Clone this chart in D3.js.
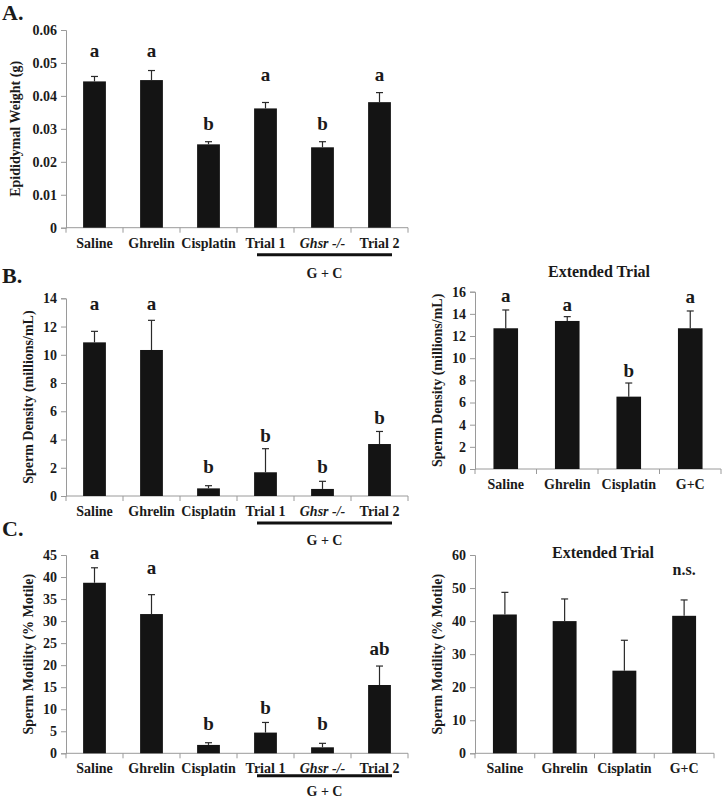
<!DOCTYPE html>
<html>
<head>
<meta charset="utf-8">
<script src="https://cdn.jsdelivr.net/npm/d3@7"></script>
<style>
  body { margin: 0; background: #fff; }
  text { font-family: "Liberation Serif", "Times New Roman", serif; font-weight: bold; fill: #1a1a1a; }
</style>
</head>
<body>
<div id="chart"></div>
<script>
// groups on the x axis
const groupsMain = ["Saline", "Ghrelin", "Cisplatin", "Trial 1", "Ghsr -/-", "Trial 2"];
const groupsExt = ["Saline", "Ghrelin", "Cisplatin", "G+C"];

// A. epididymal weight (g)
const weightMean = [0.0444, 0.0448, 0.0253, 0.0362, 0.0244, 0.0381];
const weightErr = [0.0015, 0.0029, 0.0008, 0.0018, 0.0017, 0.0029];
const weightLetters = ["a", "a", "b", "a", "b", "a"];
const weightLetterAt = [0.0539, 0.0539, 0.0317, 0.0466, 0.0317, 0.0466];
const weightTicks = [0, 0.01, 0.02, 0.03, 0.04, 0.05, 0.06];

// B. sperm density (millions/mL)
const densityMean = [10.88, 10.34, 0.54, 1.68, 0.50, 3.68];
const densityErr = [0.78, 2.10, 0.19, 1.67, 0.54, 0.89];
const densityLetters = ["a", "a", "b", "b", "b", "b"];
const densityLetterAt = [13.65, 13.65, 2.08, 4.32, 2.08, 5.6];
const densityTicks = [0, 2, 4, 6, 8, 10, 12, 14];

const densityExtMean = [12.7, 13.36, 6.53, 12.7];
const densityExtErr = [1.65, 0.39, 1.23, 1.56];
const densityExtLetters = ["a", "a", "b", "a"];
const densityExtLetterAt = [15.7, 14.86, 8.93, 15.6];
const densityExtTicks = [0, 2, 4, 6, 8, 10, 12, 14, 16];

// C. sperm motility (% motile)
const motilityMean = [38.7, 31.6, 1.9, 4.7, 1.36, 15.5];
const motilityErr = [3.4, 4.4, 0.5, 2.3, 0.9, 4.3];
const motilityLetters = ["a", "a", "b", "b", "b", "ab"];
const motilityLetterAt = [45.7, 42.1, 6.8, 10.4, 6.8, 23.8];
const motilityTicks = [0, 5, 10, 15, 20, 25, 30, 35, 40, 45];

const motilityExtMean = [42.0, 40.0, 25.0, 41.6];
const motilityExtErr = [6.7, 6.7, 9.2, 4.8];
const motilityExtLetters = ["", "", "", "n.s."];
const motilityExtLetterAt = [0, 0, 0, 55.7];
const motilityExtTicks = [0, 10, 20, 30, 40, 50, 60];

const svg = d3.select("#chart")
    .append("svg")
        .attr("width", 722)
        .attr("height", 799);

const axisColor = "#9a9a9a";
const barColor = "#141414";

function draw_panel(cfg) {
    const x = d3.scaleBand()
        .domain(cfg.groups)
        .range([cfg.left, cfg.right])
        .paddingInner(0).paddingOuter(0);
    const y = d3.scaleLinear()
        .domain([0, d3.max(cfg.ticks)])
        .range([cfg.bottom, cfg.top]);

    const g = svg.append("g");
    const barW = x.bandwidth() * 0.4;
    const cx = (d) => x(d) + x.bandwidth() / 2;

    // y axis
    const yAxis = g.append("g")
        .attr("transform", `translate(${cfg.left},0)`)
        .call(d3.axisLeft(y).tickValues(cfg.ticks).tickSize(5).tickPadding(4)
                .tickFormat(cfg.fmt || d3.format("")));
    yAxis.select(".domain").attr("stroke", axisColor);
    yAxis.selectAll(".tick line").attr("stroke", axisColor);
    yAxis.selectAll(".tick text")
        .style("font-family", "Liberation Serif")
        .style("font-weight", "bold")
        .style("font-size", "14px")
        .attr("fill", "#1a1a1a");

    // x axis: ticks sit at the group boundaries
    g.append("line")
        .attr("x1", cfg.left).attr("x2", cfg.right)
        .attr("y1", cfg.bottom).attr("y2", cfg.bottom)
        .attr("stroke", axisColor);
    const bounds = cfg.groups.map((d) => x(d)).concat([cfg.right]);
    g.selectAll(".xtick")
        .data(bounds)
        .enter()
            .append("line")
            .attr("x1", (d) => d).attr("x2", (d) => d)
            .attr("y1", cfg.bottom).attr("y2", cfg.bottom + 5)
            .attr("stroke", axisColor);

    g.selectAll(".xlab")
        .data(cfg.groups)
        .enter()
            .append("text")
            .attr("x", (d) => cx(d))
            .attr("y", cfg.bottom + 20)
            .attr("text-anchor", "middle")
            .style("font-size", "14px")
            .style("font-style", (d) => d.startsWith("Ghsr") ? "italic" : "normal")
            .text((d) => d);

    // bars
    g.selectAll(".bar")
        .data(cfg.mean)
        .enter()
            .append("rect")
            .attr("x", (d, i) => cx(cfg.groups[i]) - barW / 2)
            .attr("y", (d) => y(d))
            .attr("width", barW)
            .attr("height", (d) => cfg.bottom - y(d))
            .attr("fill", barColor);

    // upper error bars
    const errs = g.append("g").attr("stroke", "#2a2a2a").attr("stroke-width", 1.2);
    cfg.mean.forEach((m, i) => {
        const c = cx(cfg.groups[i]);
        const top = y(m + cfg.err[i]);
        errs.append("line").attr("x1", c).attr("x2", c).attr("y1", y(m)).attr("y2", top);
        errs.append("line").attr("x1", c - 3.5).attr("x2", c + 3.5).attr("y1", top).attr("y2", top);
    });

    // significance letters
    g.selectAll(".letter")
        .data(cfg.letters)
        .enter()
            .append("text")
            .attr("x", (d, i) => cx(cfg.groups[i]))
            .attr("y", (d, i) => y(cfg.letterAt[i]))
            .attr("dy", "0.35em")
            .attr("text-anchor", "middle")
            .style("font-size", d => d === "n.s." ? "16px" : "19px")
            .text((d) => d);

    // y axis title
    g.append("text")
        .attr("transform", `translate(${cfg.titleX},${(cfg.top + cfg.bottom) / 2}) rotate(-90)`)
        .attr("dy", "0.35em")
        .attr("text-anchor", "middle")
        .style("font-size", "14px")
        .text(cfg.ytitle);

    if (cfg.heading) {
        g.append("text")
            .attr("x", cfg.headingX)
            .attr("y", cfg.headingY)
            .attr("dy", "0.35em")
            .attr("text-anchor", "middle")
            .style("font-size", "16px")
            .text(cfg.heading);
    }

    // G + C bracket under the three combined-treatment groups
    if (cfg.bracket) {
        const bx0 = x("Trial 1") + 20;
        const bx1 = x("Trial 2") + x.bandwidth() - 16;
        g.append("line")
            .attr("x1", bx0).attr("x2", bx1)
            .attr("y1", cfg.bottom + cfg.bracket[0]).attr("y2", cfg.bottom + cfg.bracket[0])
            .attr("stroke", "#111").attr("stroke-width", 3);
        g.append("text")
            .attr("x", (bx0 + bx1) / 2)
            .attr("y", cfg.bottom + cfg.bracket[1])
            .attr("dy", "0.35em")
            .attr("text-anchor", "middle")
            .style("font-size", "14px")
            .text("G + C");
    }
}

draw_panel({
    groups: groupsMain, mean: weightMean, err: weightErr,
    letters: weightLetters, letterAt: weightLetterAt, ticks: weightTicks,
    fmt: (d) => d === 0 ? "0" : d3.format(".2f")(d),
    left: 66, right: 408, top: 30, bottom: 227.7,
    titleX: 15, ytitle: "Epididymal Weight (g)", bracket: [27, 45]
});
draw_panel({
    groups: groupsMain, mean: densityMean, err: densityErr,
    letters: densityLetters, letterAt: densityLetterAt, ticks: densityTicks,
    left: 66, right: 408, top: 298.3, bottom: 496,
    titleX: 28, ytitle: "Sperm Density (millions/mL)", bracket: [27, 44]
});
draw_panel({
    groups: groupsExt, mean: densityExtMean, err: densityExtErr,
    letters: densityExtLetters, letterAt: densityExtLetterAt, ticks: densityExtTicks,
    left: 475, right: 721, top: 291.7, bottom: 469,
    titleX: 437, ytitle: "Sperm Density (millions/mL)",
    heading: "Extended Trial", headingX: 599, headingY: 271
});
draw_panel({
    groups: groupsMain, mean: motilityMean, err: motilityErr,
    letters: motilityLetters, letterAt: motilityLetterAt, ticks: motilityTicks,
    left: 66, right: 408, top: 555, bottom: 753.3,
    titleX: 28, ytitle: "Sperm Motility (% Motile)", bracket: [22.5, 38]
});
draw_panel({
    groups: groupsExt, mean: motilityExtMean, err: motilityExtErr,
    letters: motilityExtLetters, letterAt: motilityExtLetterAt, ticks: motilityExtTicks,
    left: 475, right: 714, top: 555, bottom: 753.3,
    titleX: 437, ytitle: "Sperm Motility (% Motile)",
    heading: "Extended Trial", headingX: 603, headingY: 552
});

// panel letters
const panelLabels = [["A.", 12], ["B.", 275], ["C.", 528]];
svg.selectAll(".panel")
    .data(panelLabels)
    .enter()
        .append("text")
        .attr("x", 2)
        .attr("y", (d) => d[1])
        .attr("dy", "0.35em")
        .style("font-size", "22px")
        .text((d) => d[0]);
</script>
</body>
</html>
